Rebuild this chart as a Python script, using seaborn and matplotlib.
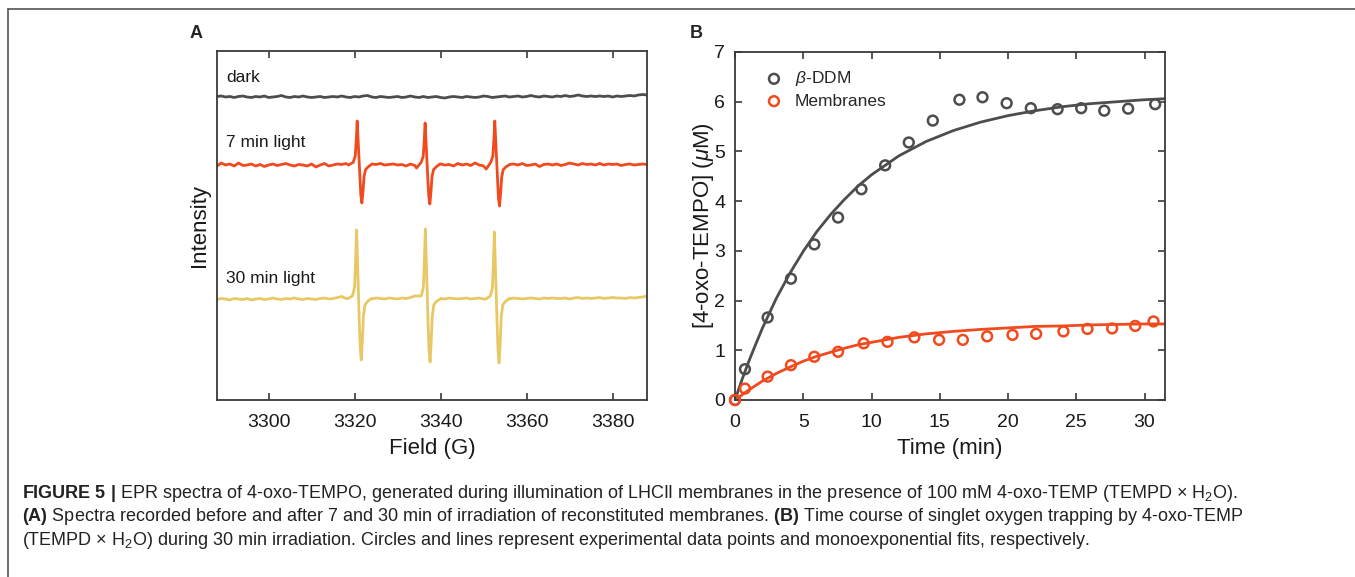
import matplotlib
matplotlib.use("Agg")
import matplotlib.pyplot as plt
import seaborn as sns
from matplotlib.lines import Line2D

# ---- panel A: EPR spectra (field in G, signal relative to baseline) ----
dark_field = [
    3288, 3289, 3290, 3291, 3292, 3293, 3294, 3295, 3296, 3297,
    3298, 3299, 3300, 3301, 3302, 3303, 3304, 3305, 3306, 3307,
    3308, 3309, 3310, 3311, 3312, 3313, 3314, 3315, 3316, 3317,
    3318, 3319, 3320, 3321, 3322, 3323, 3324, 3325, 3326, 3327,
    3328, 3329, 3330, 3331, 3332, 3333, 3334, 3335, 3336, 3337,
    3338, 3339, 3340, 3341, 3342, 3343, 3344, 3345, 3346, 3347,
    3348, 3349, 3350, 3351, 3352, 3353, 3354, 3355, 3356, 3357,
    3358, 3359, 3360, 3361, 3362, 3363, 3364, 3365, 3366, 3367,
    3368, 3369, 3370, 3371, 3372, 3373, 3374, 3375, 3376, 3377,
    3378, 3379, 3380, 3381, 3382, 3383, 3384, 3385, 3386, 3387,
    3388,
]
dark_signal = [
    0.5, 1.0, 0.0, 0.5, -0.5, 0.5, 1.0, 0.0, -0.5, 0.5,
    0.0, 1.0, -0.5, 0.0, 0.5, 1.5, 0.0, -0.5, 0.5, 0.0,
    1.0, 0.0, -0.5, 0.0, 0.5, -0.5, 0.0, 0.5, 0.0, 1.0,
    0.0, -0.5, 0.5, 0.0, 1.0, 1.5, 0.0, -0.5, 0.5, 0.0,
    -0.5, 0.0, 0.5, -0.5, 0.0, 1.0, 0.0, -0.5, 0.5, -0.5,
    0.0, 0.5, -0.5, -1.0, 0.0, 0.5, 0.0, -0.5, 0.5, 0.0,
    -0.5, 0.0, 1.0, 0.5, -0.5, 0.0, 0.5, 1.0, 0.0, 0.5,
    1.0, 0.0, 0.5, 1.5, 0.5, 0.0, 1.0, 0.5, 0.0, 1.0,
    0.5, 1.5, 0.5, 1.0, 2.0, 1.0, 0.5, 1.0, 0.5, 1.0,
    0.5, 1.0, 0.0, 1.0, 0.5, 1.0, 1.5, 1.0, 2.0, 2.5,
    2.0,
]

min7_field = [
    3288, 3289, 3290, 3291, 3292, 3293, 3294, 3295, 3296, 3297,
    3298, 3299, 3300, 3301, 3302, 3303, 3304, 3305, 3306, 3307,
    3308, 3309, 3310, 3311, 3312, 3313, 3314, 3315, 3316, 3317, 3318,
    3318.6, 3319.65, 3320.15, 3320.4, 3320.6, 3320.8, 3321.0, 3321.2,
    3321.45, 3321.7, 3321.95, 3322.2, 3322.55, 3323.15, 3324.05,
    3325, 3326, 3327, 3328, 3329, 3330, 3331, 3332, 3333, 3334,
    3334.4, 3335.45, 3335.95, 3336.2, 3336.4, 3336.6, 3336.8, 3337.0,
    3337.25, 3337.5, 3337.75, 3338.0, 3338.35, 3338.95, 3339.85,
    3340, 3341, 3342, 3343, 3344, 3345, 3346, 3347, 3348, 3349, 3350,
    3350.6, 3351.65, 3352.15, 3352.4, 3352.6, 3352.8, 3353.0, 3353.2,
    3353.45, 3353.7, 3353.95, 3354.2, 3354.55, 3355.15, 3356.05,
    3357, 3358, 3359, 3360, 3361, 3362, 3363, 3364, 3365, 3366,
    3367, 3368, 3369, 3370, 3371, 3372, 3373, 3374, 3375, 3376,
    3377, 3378, 3379, 3380, 3381, 3382, 3383, 3384, 3385, 3386,
    3387, 3388,
]
min7_signal = [
    -1, 2, 0, 1, -1, 2, -0.5, 0, 1, -1,
    0.5, -1.5, 0, 1, -0.5, 0.5, 1.5, 0, -1, 0.5,
    0, -1, 1, -2, 0, 1.5, -1, 0, 1, 0.5, 1.5,
    0, 2.6, 8.8, 26, 44, 26, 6.6, -11.4,
    -30.4, -38, -26.6, -11.4, -4.6, -1.9, 1,
    0.5, 1.5, 0, 0.5, 1, 0, 0.5, -1, 1, -0.5,
    -3, 2.5, 8.4, 25, 42, 25, 6.3, -11.7,
    -31.2, -39, -27.3, -11.7, -4.7, -2, 1,
    1, 0, 0.5, -1, 1.5, 0, 1, -0.5, 2, 0, -1,
    -4, 2.6, 8.8, 26, 44, 26, 6.6, -12.3,
    -32.8, -41, -28.7, -12.3, -4.9, -2, 0.5,
    1, 0, 1.5, -0.5, 0, 1, -1.5, 0.5, 1, 0,
    1, -0.5, 0.5, 2, 1, 0, 1.5, 0.5, 1, 0,
    1.5, 0, 1, 0.5, 1, -0.5, 0.5, 1, 0, 0.5,
    1, 0.5,
]

min30_field = [
    3288, 3289, 3290, 3291, 3292, 3293, 3294, 3295, 3296, 3297,
    3298, 3299, 3300, 3301, 3302, 3303, 3304, 3305, 3306, 3307,
    3308, 3309, 3310, 3311, 3312, 3313, 3314, 3315, 3316, 3317, 3318,
    3318.5, 3319.5, 3320.0, 3320.25, 3320.45, 3320.65, 3320.85, 3321.05,
    3321.3, 3321.55, 3321.8, 3322.05, 3322.4, 3323.0, 3323.9,
    3324, 3325, 3326, 3327, 3328, 3329, 3330, 3331, 3332, 3333, 3334,
    3334.5, 3335.5, 3336.0, 3336.25, 3336.45, 3336.65, 3336.85, 3337.05,
    3337.3, 3337.55, 3337.8, 3338.05, 3338.4, 3339.0, 3339.9,
    3340, 3341, 3342, 3343, 3344, 3345, 3346, 3347, 3348, 3349, 3350,
    3350.55, 3351.55, 3352.05, 3352.3, 3352.5, 3352.7, 3352.9, 3353.1,
    3353.35, 3353.6, 3353.85, 3354.1, 3354.45, 3355.05, 3355.95,
    3356, 3357, 3358, 3359, 3360, 3361, 3362, 3363, 3364, 3365,
    3366, 3367, 3368, 3369, 3370, 3371, 3372, 3373, 3374, 3375,
    3376, 3377, 3378, 3379, 3380, 3381, 3382, 3383, 3384, 3385,
    3386, 3387, 3388,
]
min30_signal = [
    -0.5, 0.5, 0, -1, 0.5, 0, -0.5, 0.5, -1, 0,
    0.5, -0.5, 0, 1, 0, -0.5, 0.5, 0, 1, 0,
    -0.5, 0.5, 0, -0.5, 0.5, 1, 0, 0.5, 1.5, 2.5, 0.5,
    0.5, 3, 12, 40, 69, 42, 10, -18,
    -48, -61, -42, -17, -6, -2.5, 0.5,
    0, 1, 0.5, 0, 1, 0.5, 0, 1, 0.5, 1.5, 3,
    3, 3, 12, 41, 70, 42, 10, -19,
    -50, -63, -44, -18, -6, -2.5, 0,
    0.5, 0, 1, 0.5, 0, 0.5, 1, 0, 0.5, 1, 0,
    0, 3, 11, 39, 67, 40, 10, -19,
    -51, -64, -45, -18, -6, -2.5, 0.5,
    0, 1, 0.5, 0, 0.5, 1, 0.5, 0, 1, 0.5,
    1, 0.5, 0.5, 1, 0, 1, 1.5, 0.5, 1, 0.5,
    1, 1.5, 0.5, 1, 1.5, 1, 1, 0.5, 1.5, 1,
    1.5, 2, 3,
]

trace_labels = ["dark", "7 min light", "30 min light"]

# ---- panel B: 4-oxo-TEMPO vs time ----
time_ddm = [0, 0.73, 2.39, 4.1, 5.81, 7.55, 9.26, 11.0, 12.73, 14.49,
            16.44, 18.13, 19.9, 21.67, 23.63, 25.36, 27.05, 28.8, 30.78]
conc_ddm = [0, 0.62, 1.66, 2.44, 3.13, 3.67, 4.24, 4.72, 5.18, 5.62,
            6.04, 6.09, 5.97, 5.87, 5.85, 5.87, 5.82, 5.86, 5.95]
time_mem = [0, 0.73, 2.39, 4.1, 5.81, 7.55, 9.43, 11.17, 13.14, 14.95,
            16.69, 18.47, 20.33, 22.06, 24.06, 25.82, 27.63, 29.32, 30.66]
conc_mem = [0, 0.23, 0.47, 0.70, 0.87, 0.97, 1.14, 1.17, 1.26, 1.21,
            1.21, 1.28, 1.31, 1.33, 1.38, 1.43, 1.44, 1.49, 1.58]

fit_time = [0, 0.5, 1, 1.5, 2, 3, 4, 5, 6, 7, 8, 9, 10, 12, 14, 16,
            18, 20, 22, 24, 26, 28, 30, 31.5]
fit_ddm = [0, 0.40, 0.77, 1.11, 1.44, 2.03, 2.54, 2.99, 3.39, 3.73, 4.03,
           4.30, 4.53, 4.91, 5.20, 5.42, 5.59, 5.72, 5.82, 5.90, 5.96,
           6.00, 6.04, 6.06]
fit_mem = [0, 0.10, 0.20, 0.29, 0.38, 0.53, 0.66, 0.78, 0.88, 0.96, 1.04,
           1.11, 1.16, 1.26, 1.33, 1.38, 1.42, 1.45, 1.48, 1.49, 1.51,
           1.52, 1.53, 1.53]

series_labels = [r"$\beta$-DDM", "Membranes"]

GRAY = "#4d4d4d"
RED = "#f04a1e"
YELLOW = "#e8c864"
AXC = "#3a3a3a"

sns.set_theme(style="ticks")
plt.rcParams["font.family"] = ["Liberation Sans", "DejaVu Sans"]
plt.rcParams["mathtext.fontset"] = "custom"
plt.rcParams["mathtext.rm"] = "Liberation Sans"
plt.rcParams["mathtext.it"] = "Liberation Sans:italic"
plt.rcParams["mathtext.bf"] = "Liberation Sans:bold"

fig = plt.figure(figsize=(13.55, 5.77), dpi=100)

axA = fig.add_axes([217 / 1355, 177 / 577, 430 / 1355, 349 / 577])
axB = fig.add_axes([735 / 1355, 177 / 577, 430 / 1355, 348 / 577])

# stacking offsets for the spectra
offsets = [303, 235, 101]
traces = [
    (dark_field, dark_signal, GRAY),
    (min7_field, min7_signal, RED),
    (min30_field, min30_signal, YELLOW),
]
for (fld, sig, col), off in zip(traces, offsets):
    sns.lineplot(x=fld, y=[s + off for s in sig], color=col, lw=2.0,
                 estimator=None, sort=False, ax=axA)

label_y = [323, 257, 122]
for lab, ly in zip(trace_labels, label_y):
    axA.text(3290.1, ly, lab, fontsize=12.5, va="center", ha="left",
             color="#1a1a1a")

axA.set_xlim(3288, 3388)
axA.set_ylim(0, 349)
axA.set_xticks([3300, 3320, 3340, 3360, 3380])
axA.set_yticks([])
axA.tick_params(axis="x", direction="in", top=True, length=5, width=1.2,
                labelsize=14, pad=10, colors=AXC, labelcolor="#1a1a1a")
axA.set_xlabel("Field (G)", fontsize=16, labelpad=5, color="#1a1a1a")
axA.set_ylabel("Intensity", fontsize=16, labelpad=5, color="#1a1a1a")

# panel B
sns.lineplot(x=fit_time, y=fit_ddm, color=GRAY, lw=2.0, estimator=None, ax=axB)
sns.lineplot(x=fit_time, y=fit_mem, color=RED, lw=2.0, estimator=None, ax=axB)
sns.scatterplot(x=time_ddm, y=conc_ddm, s=50, facecolor="none",
                edgecolor=GRAY, linewidth=1.8, label=series_labels[0],
                clip_on=False, zorder=3, ax=axB)
sns.scatterplot(x=time_mem, y=conc_mem, s=50, facecolor="none",
                edgecolor=RED, linewidth=1.8, label=series_labels[1],
                clip_on=False, zorder=4, ax=axB)

axB.set_xlim(0, 31.5)
axB.set_ylim(0, 7)
axB.set_xticks([0, 5, 10, 15, 20, 25, 30])
axB.set_yticks([0, 1, 2, 3, 4, 5, 6, 7])
axB.tick_params(direction="in", top=True, right=True, length=5, width=1.2,
                labelsize=14, pad=10, colors=AXC, labelcolor="#1a1a1a")
axB.tick_params(axis="y", pad=7)
axB.set_xlabel("Time (min)", fontsize=16, labelpad=5, color="#1a1a1a")
axB.set_ylabel(r"[4-oxo-TEMPO] ($\mu$M)", fontsize=16, labelpad=-1,
               color="#1a1a1a")
axB.legend(loc="upper left", bbox_to_anchor=(0.03, 0.995), frameon=False,
           fontsize=12.5, handlelength=1.2, handletextpad=0.6,
           labelspacing=0.3)

for ax in (axA, axB):
    for sp in ax.spines.values():
        sp.set_visible(True)
        sp.set_color(AXC)
        sp.set_linewidth(1.3)

fig.text(190 / 1355, 1 - 33 / 577, "A", fontsize=13, fontweight="bold",
         va="center", ha="left")
fig.text(690 / 1355, 1 - 33 / 577, "B", fontsize=13, fontweight="bold",
         va="center", ha="left")

# frame lines of the figure page
fig.add_artist(Line2D([8 / 1355, 8 / 1355], [0, 1 - 8.5 / 577],
                      color="#555555", lw=1.2, transform=fig.transFigure))
fig.add_artist(Line2D([8 / 1355, 1], [1 - 8.5 / 577, 1 - 8.5 / 577],
                      color="#555555", lw=1.2, transform=fig.transFigure))

caption = [
    r"$\bf{FIGURE\ 5\ |}$ EPR spectra of 4-oxo-TEMPO, generated during illumination of LHCII membranes in the presence of 100 mM 4-oxo-TEMP (TEMPD × H$_2$O).",
    r"$\bf{(A)}$ Spectra recorded before and after 7 and 30 min of irradiation of reconstituted membranes. $\bf{(B)}$ Time course of singlet oxygen trapping by 4-oxo-TEMP",
    r"(TEMPD × H$_2$O) during 30 min irradiation. Circles and lines represent experimental data points and monoexponential fits, respectively.",
]
cap_y = [498, 521, 545]
for line, cy in zip(caption, cap_y):
    fig.text(22 / 1355, 1 - cy / 577, line, fontsize=13.0, va="baseline",
             ha="left", color="#222222")

fig.savefig("out.png", dpi=100)
plt.close(fig)
